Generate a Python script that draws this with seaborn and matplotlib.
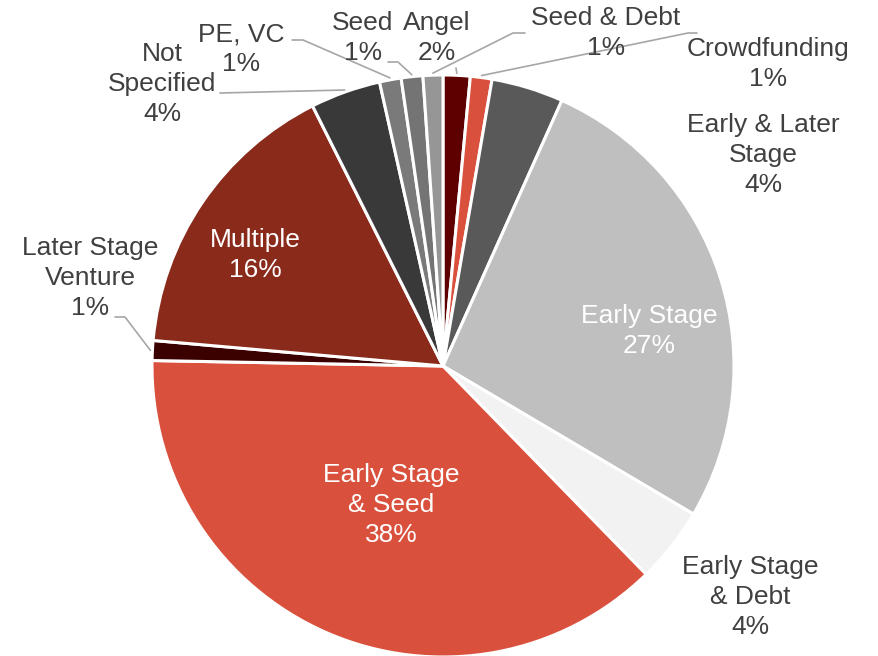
import numpy as np
import seaborn as sns
import matplotlib.pyplot as plt

# funding stage shares (%), alphabetical, clockwise from 12 o'clock
stages = ['Angel', 'Crowdfunding', 'Early & Later\nStage', 'Early Stage',
          'Early Stage\n& Debt', 'Early Stage\n& Seed', 'Later Stage\nVenture',
          'Multiple', 'Not\nSpecified', 'PE, VC', 'Seed', 'Seed & Debt']
shares = [1.5, 1.2, 4.0, 26.8, 4.2, 37.6, 1.1, 16.2, 3.9, 1.2, 1.2, 1.1]
colors = ['#5F0000', '#D9503C', '#595959', '#BFBFBF', '#F2F2F2', '#D9503C',
          '#3B0000', '#8A2A1B', '#393939', '#7A7A7A', '#747474', '#969696']

# label layout in pixels (top-down), leader start points
W, H = 879, 656
cx, cy, R = 443, 366, 291
label_pos = {
    'Angel': (437, 38), 'Crowdfunding': (768, 64), 'Early & Later\nStage': (763, 155),
    'Early Stage': (649, 331), 'Early Stage\n& Debt': (750, 597),
    'Early Stage\n& Seed': (391, 505), 'Later Stage\nVenture': (90, 278),
    'Multiple': (255, 255), 'Not\nSpecified': (162, 84), 'PE, VC': (241, 49),
    'Seed': (363, 38), 'Seed & Debt': (606, 33),
}
inside = ['Early Stage', 'Early Stage\n& Seed', 'Multiple']
leaders = {
    'Angel': [(456, 68)],
    'Crowdfunding': [(697, 33), (688, 33)],
    'Later Stage\nVenture': [(115, 317), (125, 317)],
    'Not\nSpecified': [(220, 93)],
    'PE, VC': [(292, 40), (303, 40)],
    'Seed': [(388, 62), (398, 62)],
    'Seed & Debt': [(525, 33), (513, 33)],
}

sns.set_theme(style="white")
plt.rcParams['font.family'] = ['Liberation Sans', 'DejaVu Sans']

fig = plt.figure(figsize=(W / 100, H / 100), dpi=100)
ax = fig.add_axes([0, 0, 1, 1])

wedges, _ = ax.pie(shares, colors=colors, startangle=90, counterclock=False,
                   center=(cx, H - cy), radius=R,
                   wedgeprops=dict(edgecolor='white', linewidth=2.2))
ax.set_xlim(0, W)
ax.set_ylim(0, H)
ax.set_aspect('equal')
ax.axis('off')

for w, name, v in zip(wedges, stages, shares):
    x, y = label_pos[name]
    txt = f"{name}\n{int(v + 0.5)}%"
    col = 'white' if name in inside else '#404040'
    ax.text(x, H - y, txt, ha='center', va='center', fontsize=19,
            color=col, linespacing=1.3)
    if name in leaders:
        mid = np.deg2rad((w.theta1 + w.theta2) / 2)
        ex = cx + (R + 2) * np.cos(mid)
        ey = (H - cy) + (R + 2) * np.sin(mid)
        pts = [(px, H - py) for px, py in leaders[name]] + [(ex, ey)]
        xs, ys = zip(*pts)
        ax.plot(xs, ys, color='#A6A6A6', lw=1.2)

fig.savefig('out.png', dpi=100)
